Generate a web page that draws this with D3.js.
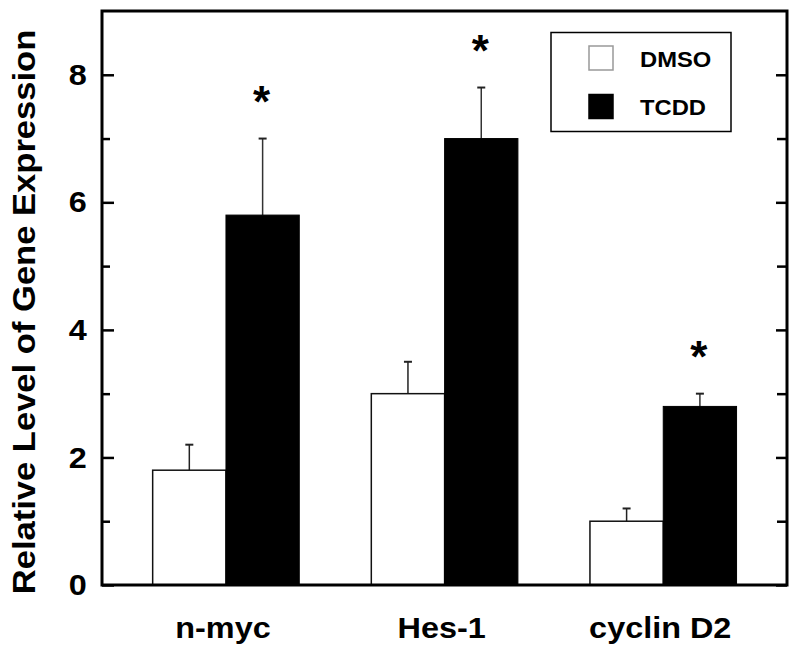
<!DOCTYPE html>
<html>
<head>
<meta charset="utf-8">
<script src="https://cdn.jsdelivr.net/npm/d3@7"></script>
<style>
  body { margin: 0; background: #fff; }
  text { font-family: "Liberation Sans", Arial, Helvetica, sans-serif; font-weight: bold; }
</style>
</head>
<body>
<div id="chart"></div>
<script>
// values
const genes = ['n-myc', 'Hes-1', 'cyclin D2']
const dmso = [1.8, 3.0, 1.0]
const dmsoErr = [0.4, 0.5, 0.2]
const tcdd = [5.8, 7.0, 2.8]
const tcddErr = [1.2, 0.8, 0.2]
const starred = [true, true, true]
const majorTicks = [0, 2, 4, 6, 8]
const minorTicks = [1, 3, 5, 7]
const seriesNames = ['DMSO', 'TCDD']

const width = 800, height = 656
const plot = { left: 102, right: 787, top: 11, bottom: 585 }
const stretch = 1.08   // the figure's type is a little wider than Arial

const svg = d3.select('#chart').append('svg')
    .attr('width', width)
    .attr('height', height)

const x = d3.scaleLinear().domain([0.433, 3.566]).range([plot.left, plot.right])
const y = d3.scaleLinear().domain([0, 9]).range([plot.bottom, plot.top])
const bw = 73.3

const label = (px, py, str, size, extra = '') => svg.append('text')
    .attr('transform', `translate(${px},${py}) ${extra} scale(${stretch},1)`)
    .attr('font-size', size)
    .text(str)

// bars
const groups = svg.append('g')
genes.forEach((g, i) => {
    const cx = x(i + 1)
    // DMSO
    groups.append('line')
        .attr('x1', cx - bw / 2).attr('x2', cx - bw / 2)
        .attr('y1', y(dmso[i])).attr('y2', y(dmso[i] + dmsoErr[i]))
        .attr('stroke', '#222').attr('stroke-width', 1.5)
    groups.append('line')
        .attr('x1', cx - bw / 2 - 4).attr('x2', cx - bw / 2 + 4)
        .attr('y1', y(dmso[i] + dmsoErr[i])).attr('y2', y(dmso[i] + dmsoErr[i]))
        .attr('stroke', '#222').attr('stroke-width', 2)
    groups.append('rect')
        .attr('x', cx - bw).attr('y', y(dmso[i]))
        .attr('width', bw).attr('height', y(0) - y(dmso[i]))
        .attr('fill', '#fff').attr('stroke', '#111').attr('stroke-width', 1.5)
    // TCDD
    groups.append('line')
        .attr('x1', cx + bw / 2).attr('x2', cx + bw / 2)
        .attr('y1', y(tcdd[i])).attr('y2', y(tcdd[i] + tcddErr[i]))
        .attr('stroke', '#333').attr('stroke-width', 1.5)
    groups.append('line')
        .attr('x1', cx + bw / 2 - 4).attr('x2', cx + bw / 2 + 4)
        .attr('y1', y(tcdd[i] + tcddErr[i])).attr('y2', y(tcdd[i] + tcddErr[i]))
        .attr('stroke', '#222').attr('stroke-width', 2)
    groups.append('rect')
        .attr('x', cx).attr('y', y(tcdd[i]))
        .attr('width', bw).attr('height', y(0) - y(tcdd[i]))
        .attr('fill', '#000').attr('stroke', '#000').attr('stroke-width', 1)
    if (starred[i]) {
        groups.append('text')
            .attr('x', cx + bw / 2 - 1).attr('y', y(tcdd[i] + tcddErr[i]) - 22)
            .attr('text-anchor', 'middle')
            .attr('font-size', 44)
            .text('*')
    }
    label(cx - 3, 638, g, 30).attr('text-anchor', 'middle')
})

// axes, ticks point inward
const yAxis = svg.append('g').attr('transform', `translate(${plot.left},0)`)
    .call(d3.axisLeft(y).tickValues(majorTicks).tickSize(-12).tickPadding(14))
yAxis.select('.domain').remove()
yAxis.selectAll('text').attr('font-size', 30).attr('fill', '#000')
    .attr('font-family', '"Liberation Sans", Arial, sans-serif')
    .attr('transform', `scale(${stretch},1)`)
yAxis.selectAll('line').attr('stroke-width', 2.5)

const yMinor = svg.append('g').attr('transform', `translate(${plot.left},0)`)
    .call(d3.axisLeft(y).tickValues(minorTicks).tickSize(-8).tickFormat(''))
yMinor.select('.domain').remove()
yMinor.selectAll('line').attr('stroke-width', 2.5)

const yRight = svg.append('g').attr('transform', `translate(${plot.right},0)`)
    .call(d3.axisRight(y).tickValues(majorTicks).tickSize(-11).tickFormat(''))
yRight.select('.domain').remove()
yRight.selectAll('line').attr('stroke-width', 2.5)

const yRightMinor = svg.append('g').attr('transform', `translate(${plot.right},0)`)
    .call(d3.axisRight(y).tickValues(minorTicks).tickSize(-10).tickFormat(''))
yRightMinor.select('.domain').remove()
yRightMinor.selectAll('line').attr('stroke-width', 2.5)

// frame
svg.append('rect')
    .attr('x', plot.left).attr('y', plot.top)
    .attr('width', plot.right - plot.left).attr('height', plot.bottom - plot.top)
    .attr('fill', 'none').attr('stroke', '#000').attr('stroke-width', 3)

// y title
label(35, 312, 'Relative Level of Gene Expression', 32, 'rotate(-90)')
    .attr('text-anchor', 'middle')

// legend
const legend = svg.append('g')
legend.append('rect')
    .attr('x', 551).attr('y', 32.5).attr('width', 180).attr('height', 99)
    .attr('fill', '#fff').attr('stroke', '#000').attr('stroke-width', 1.5)
seriesNames.forEach((s, i) => {
    legend.append('rect')
        .attr('x', 589).attr('y', 46 + i * 48.5).attr('width', 24).attr('height', 24)
        .attr('fill', i === 0 ? '#fff' : '#000')
        .attr('stroke', i === 0 ? '#999' : '#000').attr('stroke-width', 1.5)
    label(640, 66.5 + i * 48.5, s, 22)
})
</script>
</body>
</html>
